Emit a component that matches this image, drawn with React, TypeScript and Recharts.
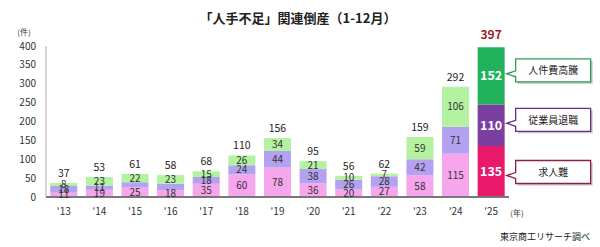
import React from 'react';
import { BarChart, Bar, XAxis, YAxis, Cell, LabelList } from 'recharts';

const YEARS = ["'13", "'14", "'15", "'16", "'17", "'18", "'19", "'20", "'21", "'22", "'23", "'24", "'25"];
const KYUJIN = [11, 19, 25, 18, 35, 60, 78, 36, 20, 27, 58, 115, 135];
const TAISHOKU = [18, 11, 14, 17, 18, 24, 44, 38, 26, 28, 42, 71, 110];
const JINKENHI = [8, 23, 22, 23, 15, 26, 34, 21, 10, 7, 59, 106, 152];
const TOTALS = [37, 53, 61, 58, 68, 110, 156, 95, 56, 62, 159, 292, 397];
const Y_TICKS = [0, 50, 100, 150, 200, 250, 300, 350, 400];
// segments too thin to carry a number in the original
const HIDDEN_TAISHOKU = ["'15", "'16"];

const FONT = '"Noto Sans CJK JP", "Noto Sans", sans-serif';
const LAST = YEARS.length - 1;

const SERIES = [
  { key: 'kyujin', name: '求人難', light: '#f6a6ec', dark: '#e8186a', border: '#8e1f4a', calloutDy: 4 },
  { key: 'taishoku', name: '従業員退職', light: '#b4a2f0', dark: '#7b3fa0', border: '#6a2c8a', calloutDy: -2 },
  { key: 'jinkenhi', name: '人件費高騰', light: '#b3f2a0', dark: '#23b25c', border: '#2e9c5a', calloutDy: -2 },
];

const data = YEARS.map((year, i) => ({
  year,
  kyujin: KYUJIN[i],
  taishoku: TAISHOKU[i],
  jinkenhi: JINKENHI[i],
  total: TOTALS[i],
}));

const Callout = ({ x, cy, label, color }: { x: number; cy: number; label: string; color: string }) => {
  const bx = x + 11;
  const by = cy - 15;
  const w = 75;
  const h = 23;
  const d = `M${bx},${by} H${bx + w} V${by + h} H${bx} V${cy + 3} L${x + 2},${cy} L${bx},${cy - 3} Z`;
  return (
    <g>
      <rect x={bx + 2} y={by + 2} width={w} height={h} fill="#c8c8c8" />
      <path d={d} fill="#fff" stroke={color} strokeWidth={1.3} />
      <text x={bx + w / 2} y={by + h / 2 + 4} textAnchor="middle" fontSize={10} fill="#222" fontFamily={FONT}>
        {label}
      </text>
    </g>
  );
};

const segmentLabel = (s: typeof SERIES[number]) => (props: any) => {
  const { x, y, width, height, value, index } = props;
  const year = YEARS[index];
  if (s.key === 'taishoku' && HIDDEN_TAISHOKU.includes(year)) return null;
  const last = index === LAST;
  const cx = Number(x) + Number(width) / 2;
  const cy = Number(y) + Number(height) / 2;
  return (
    <g>
      <text
        x={cx}
        y={cy + (last ? 4.5 : 3.5)}
        textAnchor="middle"
        fontSize={last ? 12.5 : 10}
        fontWeight={last ? 'bold' : 'normal'}
        fill={last ? '#fff' : '#333'}
        fontFamily={FONT}
      >
        {value}
      </text>
      {last && <Callout x={Number(x) + Number(width)} cy={cy + s.calloutDy} label={s.name} color={s.border} />}
    </g>
  );
};

const totalLabel = (props: any) => {
  const { x, y, width, index } = props;
  const last = index === LAST;
  return (
    <text
      x={Number(x) + Number(width) / 2}
      y={Number(y) - (last ? 8 : 6)}
      textAnchor="middle"
      fontSize={last ? 12 : 10.5}
      fontWeight={last ? 'bold' : 'normal'}
      fill={last ? '#a3162b' : '#222'}
      fontFamily={FONT}
    >
      {TOTALS[index]}
    </text>
  );
};

export default function App() {
  return (
    <div style={{ position: 'absolute', left: 0, top: 0, width: 600, height: 247, background: '#fff', fontFamily: FONT }}>
      <BarChart
        width={600}
        height={247}
        data={data}
        margin={{ top: 46, right: 91, bottom: 20, left: 0 }}
        barCategoryGap="12%"
      >
        <text x={298} y={23} textAnchor="middle" fontSize={13} fontWeight="bold" fill="#222" fontFamily={FONT}>
          「人手不足」関連倒産（1-12月）
        </text>
        <text x={24} y={35} textAnchor="middle" fontSize={8} fill="#333" fontFamily={FONT}>
          (件)
        </text>
        <text x={517} y={216} textAnchor="middle" fontSize={8} fill="#333" fontFamily={FONT}>
          (年)
        </text>
        <text x={545} y={240} textAnchor="middle" fontSize={9} fill="#222" fontFamily={FONT}>
          東京商工リサーチ調べ
        </text>
        <XAxis
          dataKey="year"
          axisLine={{ stroke: '#777', strokeWidth: 2 }}
          tickLine={false}
          tickSize={0}
          tickMargin={11}
          height={30}
          tick={{ fontSize: 10, fill: '#333', fontFamily: FONT }}
          interval={0}
        />
        <YAxis
          domain={[0, 400]}
          ticks={Y_TICKS}
          width={46}
          axisLine={{ stroke: '#aaa' }}
          tickLine={false}
          tickSize={0}
          tickMargin={10}
          tick={{ fontSize: 10, fill: '#333', fontFamily: FONT }}
          interval={0}
        />
        {SERIES.map((s, si) => (
          <Bar key={s.key} dataKey={s.key} name={s.name} stackId="a" isAnimationActive={false}>
            {data.map((_, i) => (
              <Cell key={i} fill={i === LAST ? s.dark : s.light} />
            ))}
            <LabelList dataKey={s.key} content={segmentLabel(s)} />
            {si === SERIES.length - 1 && <LabelList dataKey="total" content={totalLabel} />}
          </Bar>
        ))}
      </BarChart>
    </div>
  );
}
